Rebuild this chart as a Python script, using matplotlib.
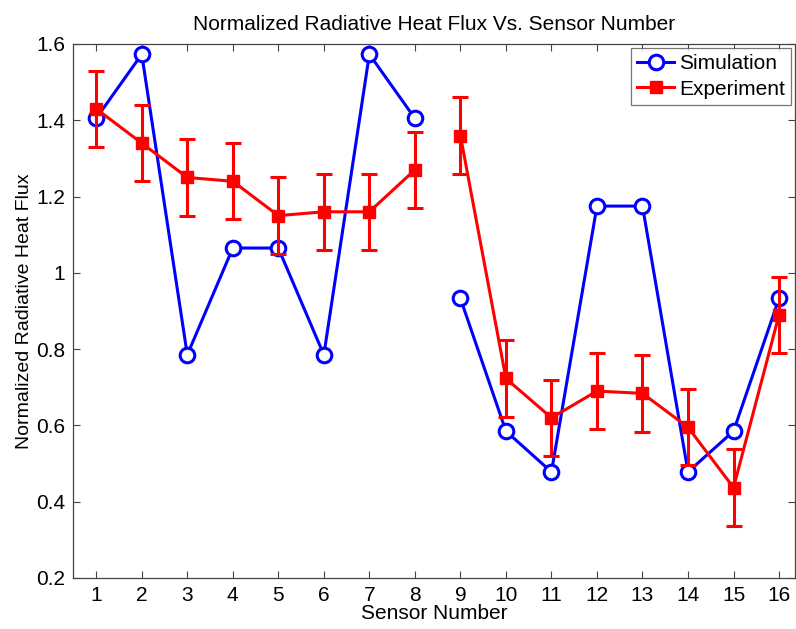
import matplotlib.pyplot as plt
import numpy as np
from matplotlib.ticker import FormatStrFormatter
from matplotlib.lines import Line2D

plt.rcParams['font.family'] = ['Liberation Sans', 'DejaVu Sans']

# sensor numbers, split in two groups (gap between 8 and 9)
sensors_a = [1, 2, 3, 4, 5, 6, 7, 8]
sensors_b = [9, 10, 11, 12, 13, 14, 15, 16]

sim_a = [1.405, 1.573, 0.785, 1.065, 1.065, 0.785, 1.573, 1.405]
sim_b = [0.933, 0.585, 0.478, 1.175, 1.175, 0.478, 0.585, 0.933]

exp_a = [1.43, 1.34, 1.25, 1.24, 1.15, 1.16, 1.16, 1.27]
exp_b = [1.36, 0.723, 0.62, 0.69, 0.684, 0.595, 0.437, 0.89]
exp_err = 0.1

yticks = [0.2, 0.4, 0.6, 0.8, 1.0, 1.2, 1.4, 1.6]

blue = (0, 0, 1)
red = (1, 0, 0)

fig = plt.figure(figsize=(7.96, 6.29), dpi=100)
ax = fig.add_axes([0.0923, 0.0811, 0.907, 0.849])

# simulation
ax.plot(sensors_a, sim_a, '-o', color=blue, lw=2.2, ms=10.5, mfc='white', mew=2.2, zorder=3)
ax.plot(sensors_b, sim_b, '-o', color=blue, lw=2.2, ms=10.5, mfc='white', mew=2.2, zorder=3)

# experiment
for xs, ys in [(sensors_a, exp_a), (sensors_b, exp_b)]:
    ax.errorbar(xs, ys, yerr=exp_err, fmt='-s', color=red, lw=2.2, ms=8.5,
                elinewidth=2.2, capsize=6, capthick=2.2, zorder=4)

ax.set_xlim(0.5, 16.36)
ax.set_ylim(0.2, 1.6)
ax.set_xticks(range(1, 17))
ax.set_yticks(yticks)
ax.yaxis.set_major_formatter(FormatStrFormatter('%g'))
ax.tick_params(direction='in', length=5, width=0.8, labelsize=15, color='#444444',
               top=True, right=True, pad=6)
for s in ax.spines.values():
    s.set_color('#444444')
    s.set_linewidth(0.9)

ax.set_title('Normalized Radiative Heat Flux Vs. Sensor Number', fontsize=15, pad=10)
ax.set_xlabel('Sensor Number', fontsize=15, labelpad=-1)
ax.set_ylabel('Normalized Radiative Heat Flux', fontsize=14, labelpad=2)

handles = [
    Line2D([], [], color=blue, lw=2.2, marker='o', ms=10.5, mfc='white', mew=2.2),
    Line2D([], [], color=red, lw=2.2, marker='s', ms=8.5),
]
leg = ax.legend(handles, ['Simulation', 'Experiment'], loc='upper right', fontsize=15,
                frameon=True, fancybox=False, edgecolor='#555555', handlelength=1.75,
                borderpad=0.3, labelspacing=0.3, handletextpad=0.25, borderaxespad=0.2)
leg.get_frame().set_linewidth(0.9)

fig.savefig('out.png', dpi=100)
